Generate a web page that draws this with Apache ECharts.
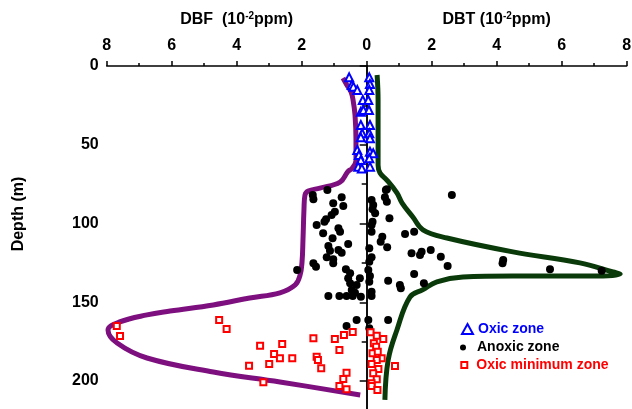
<!DOCTYPE html>
<html><head><meta charset="utf-8">
<script src="https://cdn.jsdelivr.net/npm/echarts@6/dist/echarts.min.js"></script>
<style>html,body{margin:0;padding:0;background:#fff}#c{width:632px;height:409px}</style>
</head><body><div id="c"></div>
<script>
// DBF profile curve (DBF value, depth)
const dbfCurve = [[0.73,7.6],[0.61,12],[0.48,16.5],[0.42,21.6],[0.36,31],[0.33,47],[0.33,60],[0.45,65],[0.58,67],[0.82,73.7],[1.44,77.5],[1.8,79.4],[1.9,82],[1.93,91],[1.96,110],[1.99,124.4],[2.05,132.7],[2.2,139],[2.67,144],[3.6,147.3],[4.72,151.7],[6.05,155.6],[6.76,158],[7.6,162.5],[7.96,167.6],[7.68,175.9],[6.76,185.4],[4.72,194.3],[2.67,200.6],[0.2,208.9]];
// DBT profile curve (DBT value, depth)
const dbtCurve = [[0.32,5.7],[0.35,21.6],[0.35,47],[0.35,62.9],[0.41,68],[0.62,72.4],[0.93,80.6],[1.09,87],[1.42,95.9],[1.73,104],[2.47,109.2],[4.5,118],[6.56,125],[7.58,130.8],[7.8,132],[7.09,133.3],[4.5,133.3],[2.96,134],[2.16,137],[1.73,142],[1.33,146.7],[0.93,167.6],[0.66,186.7],[0.56,212]];
// Oxic zone points
const oxicDBF = [[0.54,7.2],[0.46,12.1],[0.41,13.1],[0.29,15.2],[0.12,21.6],[0.18,29],[0.10,27.9],[0.18,37.5],[0.14,42.7],[0.18,45.3],[0.29,53.3],[0.24,56.5],[0.18,59.7],[0.26,63.9],[0.15,65]];
const oxicDBT = [[0.08,7.2],[0.10,11.4],[0.08,15.2],[0.05,21.6],[0.07,27.9],[0.10,37.5],[0.08,42.7],[0.10,45.9],[0.10,54.4],[0.20,55.4],[0.08,58.6],[0.10,63.9]];
// Anoxic zone points
const anoxDBF = [[1.66,81.9],[1.64,84.6],[1.21,78.7],[0.77,83.4],[0.72,88.9],[1.03,87.2],[0.98,92.5],[1.08,94.6],[1.25,97.3],[1.30,98.9],[1.54,101],[0.87,103],[0.82,105.2],[1.34,106.2],[1.05,109.4],[0.57,113],[1.18,114.3],[1.13,117.3],[0.87,116.8],[0.77,118.5],[1.23,121.5],[1.03,122.7],[1.64,125.3],[1.56,127.4],[2.14,129.5],[1.03,125.3],[0.64,129.1],[0.51,131.6],[0.57,134.8],[0.21,134.8],[0.51,138],[0.31,139],[0.46,142.2],[1.18,146],[0.84,146],[0.62,146],[0.43,146],[0.18,146.5],[0.36,143.9],[0.62,165],[0.31,161.3]];
const anoxDBT = [[0.15,85.1],[0.20,88.3],[0.18,91],[0.26,93.5],[0.18,98.9],[0.15,101],[0.59,78.7],[0.62,86.2],[0.70,96.7],[0.15,105.2],[0.48,108.4],[0.43,111.6],[0.63,115.1],[0.08,115.7],[0.15,121.5],[0.08,124.3],[0.05,129.5],[0.10,133.3],[0.66,136.3],[1.02,139],[1.05,141.1],[0.08,137],[0.15,143.3],[0.15,146],[0.66,161.3],[0.05,161.3],[0.08,166.5],[0.62,78.3],[0.56,83.4],[2.62,81.9],[1.18,106.7],[1.46,105.2],[1.38,118.9],[1.64,120],[1.69,117.9],[1.97,116.8],[2.28,121.1],[2.49,127],[4.20,123.2],[4.18,125.3],[5.64,129.1],[7.23,130],[1.46,132.1],[1.76,138]];
// Oxic minimum zone points
const omzDBF = [[7.69,165.1],[7.59,171.4],[4.54,161.3],[4.31,167],[3.28,177.6],[2.60,176.5],[2.85,182.9],[2.67,185.6],[3.00,189.2],[3.62,190.3],[2.29,185.6],[1.64,172.9],[1.54,184.6],[1.50,186.7],[1.40,191.9],[0.98,173.3],[0.84,180.3],[0.70,170.8],[0.43,168.9],[3.18,200.8],[0.62,194.7],[0.72,198.7],[0.84,203.2],[0.62,205.3]];
const omzDBT = [[0.12,169.1],[0.31,171.2],[0.51,173.3],[0.22,176.1],[0.29,178.2],[0.18,182.4],[0.34,181.4],[0.46,185.6],[0.31,186.7],[0.15,189.2],[0.87,190.5],[0.36,192.4],[0.20,195.1],[0.31,198.9],[0.15,201.5],[0.15,203.2],[0.33,205.7]];
const xTicks = [0,2,4,6,8];
const depthTicks = [0,50,100,150,200];

const FONT = '"Liberation Sans", Arial, sans-serif';
const chart = echarts.init(document.getElementById('c'));
const lbl = {color:'#000', fontFamily:FONT, fontWeight:'bold', fontSize:16};
const axLine = {show:true, lineStyle:{color:'#000', width:1.5}};
function xAx(gi, inverse, nameTxt, hideMin){
  return {
    type:'value', gridIndex:gi, position:'top', inverse:inverse,
    min:xTicks[0], max:xTicks[xTicks.length-1], interval:2,
    axisLine:axLine,
    axisTick:{show:true, length:5, lineStyle:{color:'#000', width:1.5}},
    minorTick:{show:true, splitNumber:2, length:3, lineStyle:{color:'#000', width:1.5}},
    splitLine:{show:false},
    axisLabel:Object.assign({margin:12, showMinLabel:!hideMin}, lbl),
    name:'{a|'+nameTxt+'(10}{s|-2}{a|ppm)}',
    nameLocation:'middle', nameGap:37,
    nameTextStyle:{rich:{
      a:{fontFamily:FONT, fontWeight:'bold', fontSize:16, color:'#000', lineHeight:18},
      s:{fontFamily:FONT, fontWeight:'bold', fontSize:10, color:'#000', verticalAlign:'top', lineHeight:18}
    }}
  };
}
const sc = (name, sym, size, color, xi, data, bw) => ({
  name:name, type:'scatter', xAxisIndex:xi, yAxisIndex:xi, data:data,
  symbol:sym, symbolSize:size, itemStyle:{color:color, borderWidth:bw||0, opacity:1}, z:3
});
chart.setOption({
  animation:false,
  grid:[
    {left:106.7, width:260, top:66, height:393.75, outerBoundsMode:'none', containLabel:false},
    {left:366.7, width:260, top:66, height:393.75, outerBoundsMode:'none', containLabel:false}
  ],
  xAxis:[ xAx(0, true, 'DBF  ', true), xAx(1, false, 'DBT ', false) ],
  yAxis:[
    {type:'value', gridIndex:0, inverse:true, min:0, max:250, interval:50,
     axisLine:axLine,
     axisTick:{show:true, length:7, lineStyle:{color:'#000', width:1.5}},
     minorTick:{show:true, splitNumber:2, length:3, lineStyle:{color:'#000', width:1.5}},
     splitLine:{show:false},
     axisLabel:Object.assign({margin:8, formatter:v=>depthTicks.indexOf(v)>=0?String(v):''}, lbl)},
    {type:'value', gridIndex:1, inverse:true, min:0, max:250, interval:25,
     axisLine:axLine,
     axisTick:{show:true, length:5, lineStyle:{color:'#000', width:1.5}},
     splitLine:{show:false}, axisLabel:{show:false}}
  ],
  legend:[
    {left:461, top:322, padding:0, itemWidth:11, itemHeight:10, selectedMode:false,
     data:[{name:'Oxic zone', icon:'emptyTriangle', itemStyle:{color:'#0000ff', borderColor:'#0000ff', borderWidth:1.2}}],
     textStyle:{color:'#0000ff', fontFamily:FONT, fontWeight:'bold', fontSize:14}},
    {left:460, top:340.5, padding:0, itemWidth:6, itemHeight:6, selectedMode:false,
     data:[{name:'Anoxic zone', icon:'circle', itemStyle:{color:'#000', opacity:1}}],
     textStyle:{color:'#000', fontFamily:FONT, fontWeight:'bold', fontSize:14, padding:[0,0,0,6]}},
    {left:460.3, top:358, padding:0, itemWidth:6, itemHeight:6, selectedMode:false,
     data:[{name:'Oxic minimum zone', icon:'emptyRect', itemStyle:{color:'#ff0000', borderColor:'#ff0000', borderWidth:1.2}}],
     textStyle:{color:'#ff0000', fontFamily:FONT, fontWeight:'bold', fontSize:14, padding:[0,0,0,4]}}
  ],
  graphic:[{type:'text', x:19, y:214, rotation:Math.PI/2,
    style:{text:'Depth (m)', font:'bold 16px '+FONT, fill:'#000', align:'center', verticalAlign:'middle'}}],
  series:[
    {name:'DBF', type:'line', xAxisIndex:0, yAxisIndex:0, data:dbfCurve, smooth:0.4, showSymbol:false,
     lineStyle:{color:'#7d0f7f', width:5}, z:2},
    {name:'DBT', type:'line', xAxisIndex:1, yAxisIndex:1, data:dbtCurve, smooth:0.4, showSymbol:false,
     lineStyle:{color:'#0a3a0a', width:5}, z:2},
    sc('Oxic zone','emptyTriangle',8,'#0000ff',0,oxicDBF,1.2),
    sc('Oxic zone','emptyTriangle',8,'#0000ff',1,oxicDBT,1.2),
    sc('Anoxic zone','circle',8,'#000',0,anoxDBF),
    sc('Anoxic zone','circle',8,'#000',1,anoxDBT),
    sc('Oxic minimum zone','emptyRect',6,'#ff0000',0,omzDBF,1.5),
    sc('Oxic minimum zone','emptyRect',6,'#ff0000',1,omzDBT,1.5)
  ]
});
</script></body></html>
